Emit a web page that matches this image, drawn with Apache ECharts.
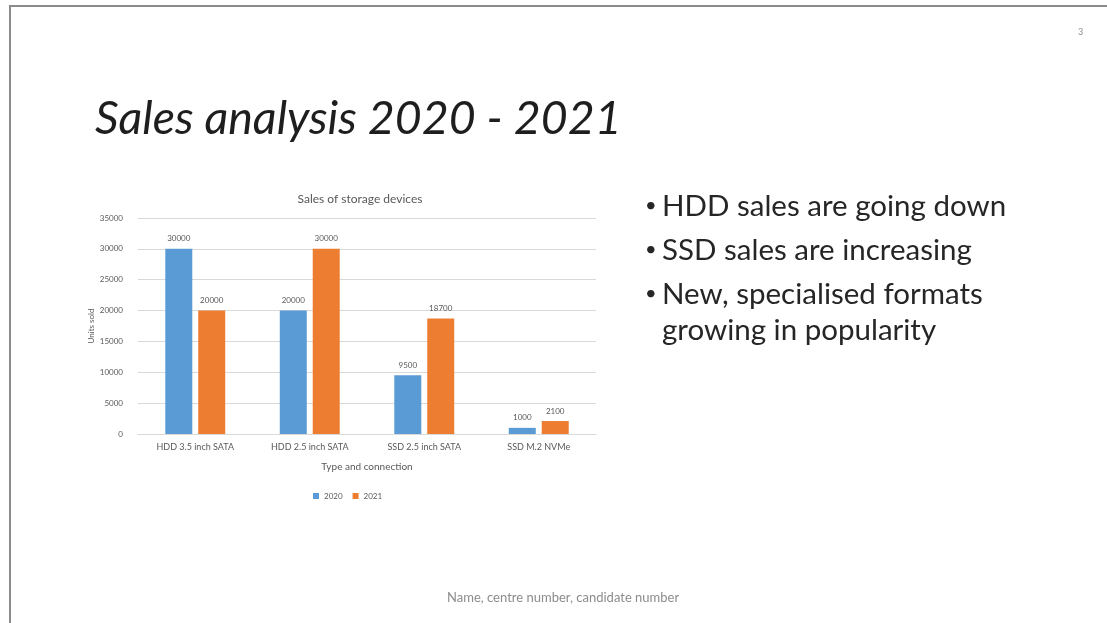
<!DOCTYPE html>
<html><head><meta charset="utf-8">
<script src="https://cdn.jsdelivr.net/npm/echarts@6/dist/echarts.min.js"></script>
<style>html,body{margin:0;padding:0;background:#fff}#c{width:1107px;height:623px}</style>
</head><body><div id="c"></div>
<script>
const categories = ['HDD 3.5 inch SATA', 'HDD 2.5 inch SATA', 'SSD 2.5 inch SATA', 'SSD M.2 NVMe'];
const sales2020 = [30000, 20000, 9500, 1000];
const sales2021 = [20000, 30000, 18700, 2100];
const seriesNames = ['2020', '2021'];
const bullets = ['HDD sales are going down', 'SSD sales are increasing', 'New, specialised formats', 'growing in popularity'];

const chart = echarts.init(document.getElementById('c'), null, {renderer: 'canvas'});
const F = 'Lato, "Open Sans", sans-serif';
const lbl = {show: true, position: 'top', fontSize: 8, color: '#595959', fontFamily: F, distance: 6};
const BF = '29.5px ' + F;
const DF = '20px ' + F;
chart.setOption({
  animation: false,
  title: {text: 'Sales of storage devices', left: 355, top: 188, textAlign: 'center',
    textStyle: {fontSize: 12, fontWeight: 'normal', color: '#595959', fontFamily: F}},
  grid: {left: 138, right: 511, top: 218, bottom: 189},
  legend: {data: seriesNames, left: 308, top: 487, itemWidth: 6, itemHeight: 6, itemGap: 10,
    textStyle: {fontSize: 8, color: '#595959', fontFamily: F}, icon: 'rect'},
  xAxis: {type: 'category', data: categories, name: 'Type and connection', nameLocation: 'middle', nameGap: 28,
    nameTextStyle: {fontSize: 10, color: '#595959', fontFamily: F},
    axisLine: {lineStyle: {color: '#d9d9d9'}}, axisTick: {show: false},
    axisLabel: {fontSize: 9, color: '#595959', fontFamily: F, margin: 9, interval: 0}},
  yAxis: {type: 'value', min: 0, max: 35000, interval: 5000, name: 'Units sold', nameLocation: 'middle', nameGap: 42,
    nameTextStyle: {fontSize: 8, color: '#595959', fontFamily: F},
    axisLabel: {fontSize: 8, color: '#595959', fontFamily: F, margin: 15, formatter: v => String(v)},
    splitLine: {lineStyle: {color: '#d9d9d9'}}},
  series: [
    {name: seriesNames[0], type: 'bar', data: sales2020, barWidth: 27, barGap: '22%', itemStyle: {color: '#5B9BD5'}, label: lbl},
    {name: seriesNames[1], type: 'bar', data: sales2021, barWidth: 27, itemStyle: {color: '#ED7D31'}, label: lbl}
  ],
  graphic: [
    {type: 'rect', shape: {x: 10, y: 6, width: 1120, height: 640}, style: {fill: 'none', stroke: '#8c8c8c', lineWidth: 2}},
    {type: 'text', left: 95, top: 95, style: {text: 'Sales analysis 2020 - 2021', font: 'italic 400 46.5px ' + F, fill: '#1e1e1e'}},
    {type: 'text', left: 1078, top: 28, style: {text: '3', font: '9px ' + F, fill: '#8c8c8c'}},
    {type: 'text', left: 645, top: 196, style: {text: '•', font: DF, fill: '#262626'}},
    {type: 'text', left: 662, top: 191, style: {text: bullets[0], font: BF, fill: '#262626'}},
    {type: 'text', left: 645, top: 240, style: {text: '•', font: DF, fill: '#262626'}},
    {type: 'text', left: 662, top: 235, style: {text: bullets[1], font: BF, fill: '#262626'}},
    {type: 'text', left: 645, top: 284, style: {text: '•', font: DF, fill: '#262626'}},
    {type: 'text', left: 662, top: 279, style: {text: bullets[2], font: BF, fill: '#262626'}},
    {type: 'text', left: 662, top: 315, style: {text: bullets[3], font: BF, fill: '#262626'}},
    {type: 'text', left: 447, top: 591, style: {text: 'Name, centre number, candidate number', font: '13px ' + F, fill: '#8c8c8c'}}
  ]
});
</script></body></html>
